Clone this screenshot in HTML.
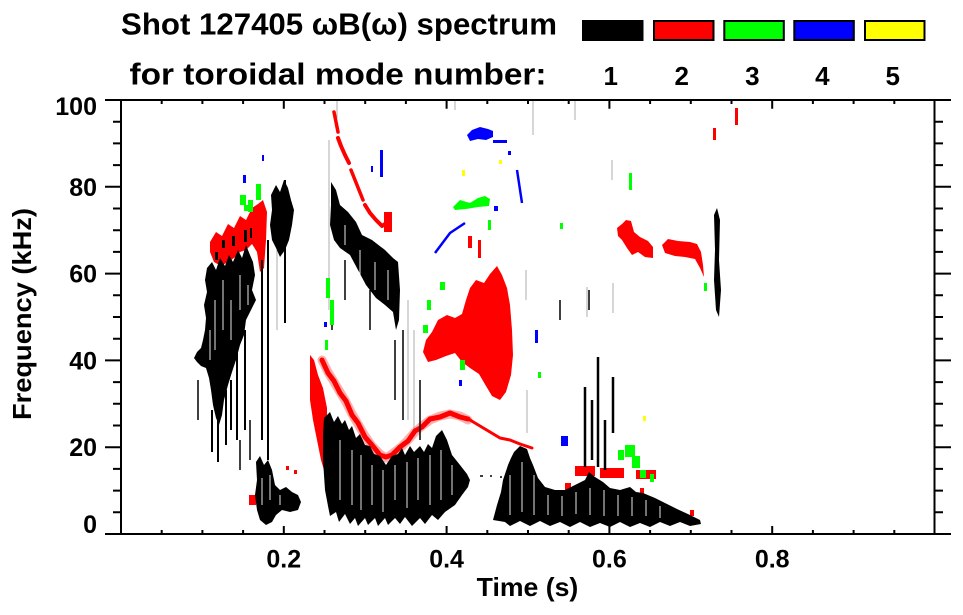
<!DOCTYPE html>
<html><head><meta charset="utf-8">
<style>
html,body{margin:0;padding:0;background:#fff;width:963px;height:615px;overflow:hidden;}
svg{display:block;}
text{font-family:"Liberation Sans",Arial,sans-serif;font-weight:bold;fill:#000;}
</style></head><body>
<svg width="963" height="615" viewBox="0 0 963 615" xmlns="http://www.w3.org/2000/svg">
<defs><clipPath id="pa"><rect x="121" y="100" width="813.5" height="434"/></clipPath></defs>

<!-- Title -->
<text x="121" y="34.3" font-size="31" textLength="436" lengthAdjust="spacingAndGlyphs">Shot 127405 ωB(ω) spectrum</text>
<text x="129.5" y="84.5" font-size="31" textLength="417" lengthAdjust="spacingAndGlyphs">for toroidal mode number:</text>

<!-- Legend -->
<rect x="582" y="20" width="61.5" height="21" fill="#000"/>
<rect x="654" y="21" width="59.5" height="19" fill="#ff0000" stroke="#000" stroke-width="2"/>
<rect x="724.3" y="21" width="59.5" height="19" fill="#00ff00" stroke="#000" stroke-width="2"/>
<rect x="794.3" y="21" width="59.5" height="19" fill="#0000ff" stroke="#000" stroke-width="2"/>
<rect x="865" y="21" width="59.5" height="19" fill="#ffff00" stroke="#000" stroke-width="2"/>
<g font-size="26" text-anchor="middle">
<text x="610.7" y="85">1</text>
<text x="681.7" y="85">2</text>
<text x="752.3" y="85">3</text>
<text x="822.3" y="85">4</text>
<text x="892.7" y="85">5</text>
</g>

<!-- Data -->
<g clip-path="url(#pa)">
<!-- faint grey streaks -->
<g stroke="#bbb" stroke-width="1.2" fill="none">
<path d="M329 140V310 M277 250V330 M533 100V135 M337 100V118 M575 100V120 M455 100V110 M408 300V420 M414 330V430 M527 390V433 M613 283V313 M587 287V317 M526 270V300 M612 160V180"/>
</g>

<!-- RED (under black) -->
<g fill="#ff0000">
<polygon points="210,242 216,232 222,236 228,224 234,228 240,216 246,220 252,208 258,204 263,200 267,212 266,240 264,268 260,272 257,252 252,244 246,250 240,252 234,258 228,262 221,266 214,262 210,252"/>
<polygon points="310,355 314,360 318,375 323,388 327,408 327,430 326,450 324,470 321,460 317,440 313,420 310,400 310,378"/>
<polygon points="497,266 502,275 507,288 510,305 512,330 513,355 511,375 506,392 500,400 492,396 486,386 479,374 470,368 462,362 455,353 446,356 436,360 428,362 423,352 426,340 432,332 438,320 447,315 455,318 462,314 466,300 470,288 476,280 484,283 490,274"/>
<polygon points="617,228 622,224 626,220 631,221 634,232 640,237 648,241 653,247 653,258 645,257 638,252 632,255 627,248 622,240 618,236"/>
<polygon points="662,245 668,239 678,241 690,242 697,244 701,252 703,265 704,277 700,268 695,259 685,257 675,256 665,253"/>
<rect x="575" y="466" width="20" height="10"/>
<rect x="600" y="468" width="24" height="10"/>
<rect x="636" y="470" width="20" height="9"/>
<rect x="565" y="483" width="6" height="7"/>
<rect x="713" y="128" width="3" height="12"/>
<rect x="735" y="108" width="3" height="17"/>
<rect x="249" y="495" width="7" height="10"/>
<rect x="286" y="466" width="3" height="4"/>
<rect x="294" y="470" width="3" height="4"/>
<rect x="384" y="212" width="8" height="20"/>
<rect x="468" y="236" width="4" height="12"/>
<rect x="478" y="240" width="3" height="18"/>
<rect x="440" y="478" width="3" height="6"/>
<rect x="640" y="488" width="4" height="8"/>
<rect x="690" y="510" width="4" height="6"/>
</g>
<g fill="none" stroke="#ff0000" stroke-linecap="round" stroke-linejoin="round">
<polyline stroke-width="3.5" points="334,112 336,122 338,132"/>
<polyline stroke-width="4" points="338,138 341,146 345,155 349,163"/>
<polyline stroke-width="3.5" points="351,170 355,180 359,190 363,200"/>
<polyline stroke-width="4" points="365,205 370,213 376,220 382,226 388,222"/>
<polyline stroke-width="9" stroke="#ff6060" opacity="0.5" points="322,360 328,372 334,382 340,392 346,402 352,414 358,424 365,436 372,446 380,454 386,458 392,454 400,448 408,440 415,432 422,426 430,420 440,416 450,414 460,416 468,420"/>
<polyline stroke-width="5" points="322,360 328,373 334,381 340,393 346,401 352,415 358,423 365,437 372,445 380,455 386,457 392,455 400,447 408,441 415,431 422,427 430,419 440,417 450,413 460,417 468,419"/>
<polyline stroke-width="3" points="470,420 480,426 490,432 500,438 510,440 520,444 532,448"/>
</g>

<!-- BLACK -->
<g fill="#000">
<polygon points="207,268 212,262 216,270 220,258 225,266 229,255 233,262 238,250 242,258 246,245 250,255 253,262 255,275 252,290 256,300 250,312 246,320 244,335 240,345 236,360 232,372 228,385 224,400 222,415 219,425 216,418 213,405 211,390 209,378 206,368 201,366 197,362 194,358 197,352 201,348 203,340 205,330 206,318 204,305 207,292 205,280"/>
<polygon points="271,195 276,185 280,192 284,180 288,188 291,200 294,210 292,225 289,240 285,250 280,257 276,248 272,240 270,225 272,210"/>
<polygon points="256,462 260,456 264,465 268,460 272,470 275,485 280,490 286,487 292,492 298,495 301,502 298,510 290,512 282,510 276,515 272,522 266,525 260,520 257,510 255,495 257,480"/>
<polygon points="331,182 336,190 340,205 348,212 356,222 362,235 372,240 385,250 393,258 398,262 400,290 399,320 396,330 393,312 385,305 376,298 366,285 358,270 350,255 340,248 334,240 330,225 331,205"/>
<polygon points="324,418 330,412 334,422 338,416 342,424 345,420 349,430 352,426 356,438 360,434 365,445 370,446 374,454 380,456 386,465 392,456 398,454 402,448 405,455 410,446 414,452 420,446 424,452 428,444 432,448 436,436 442,430 447,440 452,455 460,465 467,474 470,480 468,487 462,495 455,505 445,512 438,520 432,515 425,524 420,518 412,526 405,517 400,524 395,518 388,525 385,518 378,526 375,518 368,525 365,518 358,526 355,518 350,524 345,514 339,522 336,512 330,516 328,506 325,490 323,460 323,435"/>
<polygon points="493,520 497,505 501,492 503,480 508,465 511,458 514,452 520,446 527,449 530,458 533,465 538,478 545,487 555,490 565,490 575,485 585,480 589,472 595,477 603,482 610,488 620,490 630,487 636,492 643,493 655,498 665,503 677,509 690,515 700,520 701,524 690,526 680,522 670,526 660,522 650,527 640,523 630,527 620,522 610,527 600,523 590,527 580,522 570,527 560,522 550,526 540,521 530,526 520,521 510,526 505,522"/>
<polygon points="714,215 717,208 720,220 719,260 721,290 719,317 716,310 714,280 715,250"/>
<!-- black specks among left red -->
<rect x="222" y="240" width="3" height="8"/>
<rect x="232" y="236" width="3" height="10"/>
<rect x="244" y="230" width="3" height="12"/>
<rect x="215" y="252" width="3" height="8"/>
<rect x="250" y="228" width="2" height="10"/>
</g>
<g stroke="#000" fill="none">
<path stroke-width="2" d="M262 260V440 M268 240V460 M237 300V440 M245 330V430 M212 410V452 M218 420V462 M285 180V323 M226 390V445 M231 380V430"/>
<path stroke-width="2.5" d="M585 387V467 M598 357V467 M613 377V433 M592 400V460 M605 420V470"/>
<path stroke-width="1.5" d="M403 330V420 M395 340V400 M420 380V440 M332 300V330 M345 260V300 M370 290V330 M520 460V470 M480 476H483 M490 476H492 M500 477H502 M560 300V320 M589 290V310 M240 440V470 M250 420V460 M198 380V420"/>
</g>
<!-- white texture gaps in black blobs -->
<g stroke="#fff" stroke-width="1" fill="none" opacity="0.9">
<path d="M215 300V350 M223 280V330 M231 300V340 M240 275V310 M210 330V360 M248 285V305"/>
<path d="M340 440V500 M352 450V505 M361 455V510 M372 465V505 M383 470V512 M395 465V500 M407 462V508 M418 458V500 M430 455V505 M441 450V500 M452 465V495"/>
<path d="M510 475V515 M522 462V512 M534 475V515 M548 495V515 M562 496V516 M576 492V514 M590 488V515 M604 490V516 M618 495V516 M632 497V516 M646 500V516 M660 506V518"/>
<path d="M345 225V245 M360 250V275 M375 262V290 M388 270V300"/>
<path d="M262 478V505 M270 475V500 M280 495V505"/>
</g>

<!-- GREEN -->
<g fill="#00ff00">
<rect x="240" y="195" width="6" height="10"/>
<rect x="248" y="200" width="5" height="12"/>
<rect x="256" y="184" width="5" height="16"/>
<rect x="244" y="205" width="4" height="6"/>
<rect x="326" y="278" width="4" height="20"/>
<rect x="330" y="300" width="4" height="25"/>
<rect x="325" y="340" width="3" height="10"/>
<polygon points="453,207 460,200 470,203 478,198 485,196 490,199 489,206 478,207 466,209 455,210"/>
<rect x="440" y="282" width="5" height="8"/>
<rect x="423" y="325" width="5" height="8"/>
<rect x="427" y="300" width="4" height="10"/>
<rect x="460" y="360" width="5" height="10"/>
<rect x="618" y="450" width="6" height="10"/>
<rect x="625" y="445" width="10" height="12"/>
<rect x="632" y="456" width="8" height="12"/>
<rect x="640" y="470" width="6" height="8"/>
<rect x="650" y="474" width="4" height="8"/>
<rect x="629" y="173" width="3" height="17"/>
<rect x="560" y="223" width="3" height="6"/>
<rect x="704" y="283" width="3" height="8"/>
<rect x="538" y="372" width="3" height="6"/>
<rect x="488" y="220" width="3" height="10"/>
</g>

<!-- BLUE -->
<g fill="#0000ff">
<polygon points="467,135 472,130 480,127 488,129 493,131 493,137 486,140 478,139 470,141"/>
<rect x="493" y="140" width="14" height="3"/>
<rect x="508" y="151" width="3" height="4"/>
<rect x="494" y="206" width="4" height="5"/>
<rect x="535" y="330" width="3" height="13"/>
<rect x="561" y="436" width="7" height="10"/>
<rect x="243" y="175" width="3" height="8"/>
<rect x="262" y="155" width="2" height="6"/>
<rect x="380" y="150" width="3" height="27"/>
<rect x="371" y="166" width="2" height="6"/>
<rect x="459" y="380" width="3" height="6"/>
<rect x="324" y="322" width="3" height="5"/>
</g>
<g fill="none" stroke="#0000ff" stroke-width="2.5">
<polyline points="517,170 522,203"/>
<polyline points="435,253 450,233 465,223"/>
</g>

<!-- YELLOW -->
<g fill="#ffff00">
<rect x="462" y="170" width="3" height="6"/>
<rect x="499" y="160" width="3" height="4"/>
<rect x="643" y="416" width="3" height="5"/>
</g>
</g>

<!-- Axes box -->
<rect x="121" y="100" width="813.5" height="434" fill="none" stroke="#000" stroke-width="2"/>
<g stroke="#000" stroke-width="2" fill="none">
<path d="M105 534H121 M105 447.2H121 M105 360.4H121 M105 273.6H121 M105 186.8H121 M105 100H121"/>
<path d="M113 512.3H121 M113 490.6H121 M113 468.9H121 M113 425.5H121 M113 403.8H121 M113 382.1H121 M113 338.7H121 M113 317H121 M113 295.3H121 M113 251.9H121 M113 230.2H121 M113 208.5H121 M113 165.1H121 M113 143.4H121 M113 121.7H121"/>
<path d="M934.5 534H951 M934.5 447.2H951 M934.5 360.4H951 M934.5 273.6H951 M934.5 186.8H951 M934.5 100H951"/>
<path d="M934.5 512.3H943 M934.5 490.6H943 M934.5 468.9H943 M934.5 425.5H943 M934.5 403.8H943 M934.5 382.1H943 M934.5 338.7H943 M934.5 317H943 M934.5 295.3H943 M934.5 251.9H943 M934.5 230.2H943 M934.5 208.5H943 M934.5 165.1H943 M934.5 143.4H943 M934.5 121.7H943"/>
<path d="M283.8 100V108.7 M446.6 100V108.7 M609.4 100V108.7 M772.2 100V108.7"/>
<path d="M161.7 100V104 M202.4 100V104 M243.1 100V104 M324.5 100V104 M365.2 100V104 M405.9 100V104 M487.3 100V104 M528 100V104 M568.7 100V104 M650.1 100V104 M690.8 100V104 M731.5 100V104 M812.9 100V104 M853.6 100V104 M894.3 100V104"/>
<path d="M283.8 534V526 M446.6 534V526 M609.4 534V526 M772.2 534V526"/>
<path d="M161.7 534V530 M202.4 534V530 M243.1 534V530 M324.5 534V530 M365.2 534V530 M405.9 534V530 M487.3 534V530 M528 534V530 M568.7 534V530 M650.1 534V530 M690.8 534V530 M731.5 534V530 M812.9 534V530 M853.6 534V530 M894.3 534V530"/>
</g>

<!-- Y tick labels -->
<g font-size="25" text-anchor="end">
<text x="97" y="533">0</text>
<text x="97" y="456.2">20</text>
<text x="97" y="369.4">40</text>
<text x="97" y="282.6">60</text>
<text x="97" y="195.8">80</text>
<text x="97" y="115">100</text>
</g>
<!-- X tick labels -->
<g font-size="25" text-anchor="middle">
<text x="283.8" y="567.3">0.2</text>
<text x="446.6" y="567.3">0.4</text>
<text x="609.4" y="567.3">0.6</text>
<text x="772.2" y="567.3">0.8</text>
</g>
<!-- Axis titles -->
<text x="527.5" y="596" font-size="26" text-anchor="middle" textLength="101.6" lengthAdjust="spacingAndGlyphs">Time (s)</text>
<text transform="translate(31,314) rotate(-90)" font-size="26" text-anchor="middle" textLength="212" lengthAdjust="spacingAndGlyphs">Frequency (kHz)</text>
</svg>
</body></html>
